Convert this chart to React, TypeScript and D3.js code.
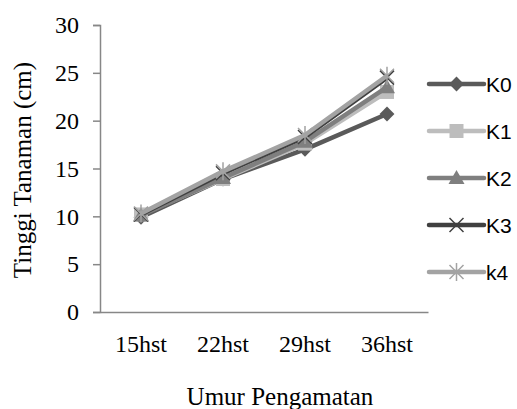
import { useEffect, useRef } from 'react';
import * as d3 from 'd3';

const categories = ['15hst', '22hst', '29hst', '36hst'];
const seriesNames = ['K0', 'K1', 'K2', 'K3', 'k4'];
const k0 = [9.9, 13.9, 17.0, 20.7];
const k1 = [10.2, 13.9, 17.6, 23.0];
const k2 = [10.1, 14.0, 17.8, 23.5];
const k3 = [10.2, 14.5, 18.3, 24.5];
const k4 = [10.3, 14.7, 18.5, 24.7];
const yTicks = [0, 5, 10, 15, 20, 25, 30];

const colors = ['#5a5a5a', '#bdbdbd', '#7f7f7f', '#404040', '#a3a3a3'];
const markers = ['diamond', 'square', 'triangle', 'x', 'star'];

const App = () => {
  const svgRef = useRef<SVGSVGElement | null>(null);
  const width = 517;
  const height = 409;

  useEffect(() => {
    const svg = d3.select(svgRef.current);
    svg.selectAll('*').remove();

    const margin = { top: 25, right: 89, bottom: 97, left: 100 };
    const x = d3.scaleBand()
      .domain(categories)
      .range([margin.left, width - margin.right]);
    const y = d3.scaleLinear()
      .domain([0, 30])
      .range([height - margin.bottom, margin.top]);

    const axisColor = '#878787';
    const serif = '"Liberation Serif", serif';

    // y axis
    const gy = svg.append('g')
      .attr('transform', `translate(${margin.left},0)`)
      .call(d3.axisLeft(y).tickValues(yTicks).tickSize(7).tickPadding(14));
    gy.select('.domain').attr('stroke', axisColor).attr('stroke-width', 1.5);
    gy.selectAll('line').attr('stroke', axisColor).attr('stroke-width', 1.5);
    gy.selectAll('text')
      .attr('font-family', serif)
      .attr('font-size', 24)
      .attr('fill', '#000');

    // x axis
    const gx = svg.append('g')
      .attr('transform', `translate(0,${height - margin.bottom})`)
      .call(d3.axisBottom(x).tickSize(0).tickPadding(23));
    gx.select('.domain').attr('stroke', axisColor).attr('stroke-width', 1.5);
    gx.selectAll('text')
      .attr('font-family', serif)
      .attr('font-size', 24)
      .attr('fill', '#000');

    // axis titles
    svg.append('text')
      .attr('transform', `translate(31,170) rotate(-90)`)
      .attr('text-anchor', 'middle')
      .attr('font-family', serif)
      .attr('font-size', 25)
      .text('Tinggi Tanaman (cm)');
    svg.append('text')
      .attr('x', 280)
      .attr('y', 405)
      .attr('text-anchor', 'middle')
      .attr('font-family', serif)
      .attr('font-size', 25)
      .text('Umur Pengamatan');

    const allSeries = [k0, k1, k2, k3, k4];
    const cx = (i: number) => (x(categories[i]) ?? 0) + x.bandwidth() / 2;

    const drawMarker = (g: d3.Selection<SVGGElement, unknown, null, undefined>, type: string, px: number, py: number, color: string) => {
      if (type === 'diamond') {
        g.append('path')
          .attr('d', d3.symbol(d3.symbolDiamond2, 140)())
          .attr('transform', `translate(${px},${py})`)
          .attr('fill', color);
      } else if (type === 'square') {
        g.append('rect')
          .attr('x', px - 7).attr('y', py - 7)
          .attr('width', 14).attr('height', 14)
          .attr('fill', color);
      } else if (type === 'triangle') {
        g.append('path')
          .attr('d', `M${px},${py - 8}L${px + 8},${py + 6}L${px - 8},${py + 6}Z`)
          .attr('fill', color);
      } else if (type === 'x') {
        g.append('path')
          .attr('d', `M${px - 7},${py - 7}L${px + 7},${py + 7}M${px - 7},${py + 7}L${px + 7},${py - 7}`)
          .attr('stroke', color).attr('stroke-width', 1.5);
      } else {
        g.append('path')
          .attr('d', `M${px - 7},${py - 7}L${px + 7},${py + 7}M${px - 7},${py + 7}L${px + 7},${py - 7}M${px},${py - 9}L${px},${py + 9}`)
          .attr('stroke', color).attr('stroke-width', 1.5);
      }
    };

    const line = d3.line<number>()
      .x((_, i) => cx(i))
      .y((d) => y(d));

    allSeries.forEach((vals, si) => {
      const g = svg.append('g');
      g.append('path')
        .datum(vals)
        .attr('d', line)
        .attr('fill', 'none')
        .attr('stroke', colors[si])
        .attr('stroke-width', 4.5)
        .attr('stroke-linejoin', 'round');
      vals.forEach((v, i) => drawMarker(g, markers[si], cx(i), y(v), colors[si]));
    });

    // legend
    const legendX = 429;
    const legendY0 = 84;
    const legendStep = 47;
    seriesNames.forEach((name, si) => {
      const g = svg.append('g');
      const ly = legendY0 + si * legendStep;
      g.append('line')
        .attr('x1', legendX).attr('x2', legendX + 55)
        .attr('y1', ly).attr('y2', ly)
        .attr('stroke', colors[si])
        .attr('stroke-width', 4.5)
        .attr('stroke-linecap', 'round');
      drawMarker(g, markers[si], legendX + 27.5, ly, colors[si]);
      g.append('text')
        .attr('x', legendX + 57)
        .attr('y', ly)
        .attr('dy', '0.36em')
        .attr('font-family', '"Liberation Sans", sans-serif')
        .attr('font-size', 21)
        .text(name);
    });
  }, []);

  return <svg ref={svgRef} width={width} height={height} style={{ position: 'absolute', left: 0, top: 0 }}></svg>;
};

export default App;
